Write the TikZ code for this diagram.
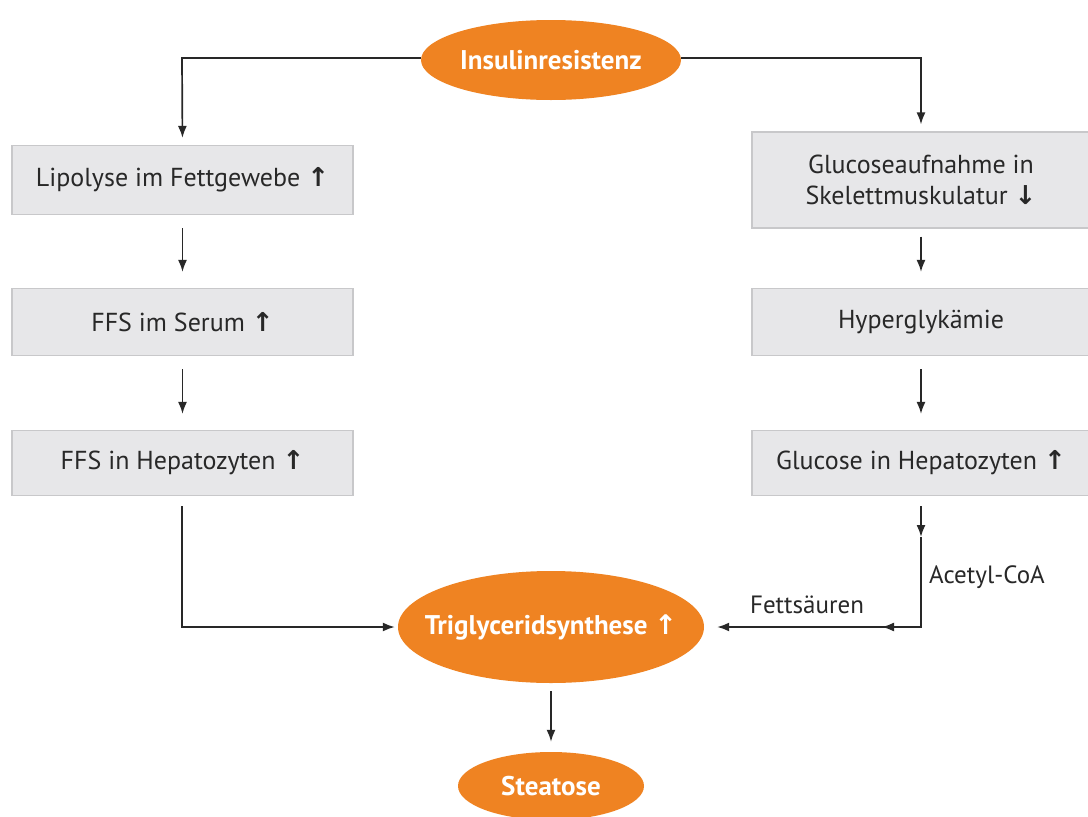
\documentclass[tikz,border=0pt]{standalone}
\usepackage{fontspec}
\setmainfont{PT Sans}
\newfontfamily\symfont{DejaVu Sans}
\usetikzlibrary{shapes.geometric,arrows.meta}
\definecolor{orng}{RGB}{239,131,34}
\definecolor{boxfill}{RGB}{231,231,233}
\definecolor{boxline}{RGB}{200,200,202}
\definecolor{txt}{RGB}{40,40,40}
\newcommand{\up}{{\symfont\bfseries\char"2191}}
\newcommand{\down}{{\symfont\bfseries\char"2193}}
\begin{document}
\begin{tikzpicture}[x=1pt,y=-1pt,
  oval/.style={ellipse, fill=orng, draw=none, text=white, font=\fontsize{27}{32}\selectfont\bfseries, inner sep=0pt},
  stepbox/.style={rectangle, fill=boxfill, draw=boxline, line width=1.2pt, text=txt, font=\fontsize{26}{31}\selectfont, align=center, inner sep=0pt},
  conn/.style={line width=1.7pt, draw=txt},
  arr/.style={conn, -{Latex[length=12pt,width=9pt]}},
  lbl/.style={text=txt, font=\fontsize{25}{30}\selectfont, inner sep=0pt}
]
\useasboundingbox[fill=white] (0,0) rectangle (1088,817);
% nodes
\node[oval, minimum width=260pt, minimum height=80pt] (ins) at (551,60) {\makebox[0pt]{Insulinresistenz}};
\node[stepbox, minimum width=341pt, minimum height=69pt] (lip) at (182.5,180) {Lipolyse im Fettgewebe \up};
\node[stepbox, minimum width=338pt, minimum height=96pt] (glu) at (921,180) {Glucoseaufnahme in\\Skelettmuskulatur \down};
\node[stepbox, minimum width=341pt, minimum height=67pt] (ffs) at (182.5,322) {FFS im Serum \up};
\node[stepbox, minimum width=338pt, minimum height=67pt] (hyp) at (921,322) {Hyperglykämie};
\node[stepbox, minimum width=341pt, minimum height=65pt] (ffsh) at (182.5,463) {FFS in Hepatozyten \up};
\node[stepbox, minimum width=338pt, minimum height=65pt] (gluh) at (921,463) {Glucose in Hepatozyten \up};
\node[oval, minimum width=306pt, minimum height=112pt] (tri) at (551,627) {\makebox[0pt]{Triglyceridsynthese \up}};
\node[oval, minimum width=186pt, minimum height=68pt] (ste) at (551,786) {\makebox[0pt]{Steatose}};
% coordinates
\coordinate (cl) at (182,58);
\coordinate (cr) at (921,58);
\coordinate (bl) at (182,627);
\coordinate (br) at (921,627);
\coordinate (a1) at (921,537);
\coordinate (a2) at (882,627);
% connectors
\draw[arr, shorten >=7pt] (ins.west |- cl) -- (cl) -- (lip.north);
\draw[arr, shorten >=7pt] (ins.east |- cr) -- (cr) -- (glu.north);
\draw[arr, shorten <=13pt, shorten >=16pt] (lip.south) -- (ffs.north);
\draw[arr, shorten <=13pt, shorten >=16pt] (ffs.south) -- (ffsh.north);
\draw[arr, shorten <=8pt, shorten >=16pt] (glu.south) -- (hyp.north);
\draw[arr, shorten <=13pt, shorten >=16pt] (hyp.south) -- (gluh.north);
\draw[arr, shorten <=10pt, shorten >=3pt] (ffsh.south -| bl) -- (bl) -- (tri.west);
\draw[arr, shorten <=10pt] (gluh.south -| a1) -- (a1);
\draw[conn] (a1) -- (br) -- (a2);
\draw[arr] (br) -- (a2);
\draw[arr, shorten >=13pt] (a2) -- (tri.east);
\draw[arr, shorten <=8pt, shorten >=10pt] (tri.south) -- (ste.north);
% labels
\node[lbl, anchor=west] (acoa) at (929,577) {Acetyl-CoA};
\node[lbl] (fett) at (807,605) {Fettsäuren};
\end{tikzpicture}
\end{document}
